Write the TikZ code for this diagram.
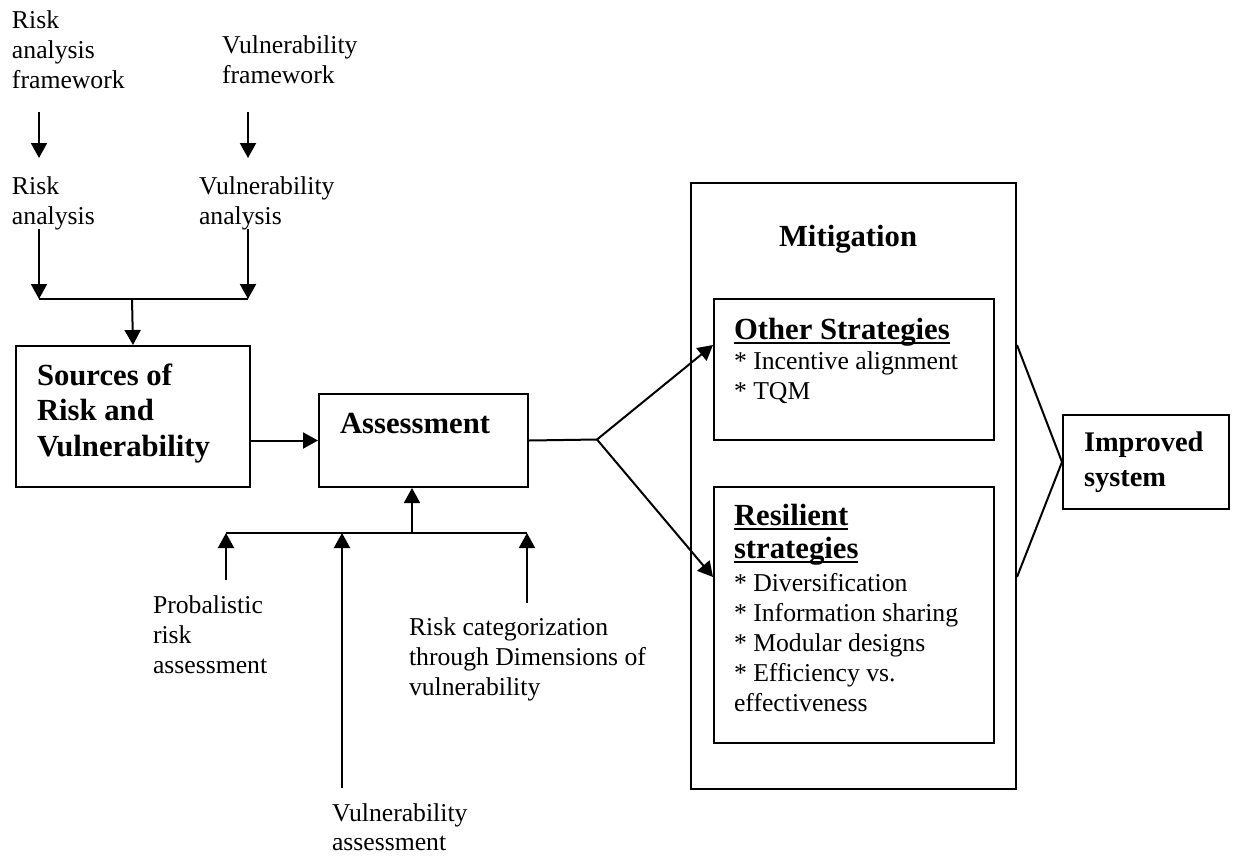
\documentclass[tikz,border=0pt]{standalone}
\usepackage{fontspec}
\setmainfont{Liberation Serif}
\usetikzlibrary{arrows.meta}
\newcommand\myul[1]{\setbox0\hbox{#1}\rlap{\rule[-5.2pt]{\wd0}{1.9pt}}\box0}
\begin{document}
\begin{tikzpicture}[x=1pt,y=-1pt,
  line width=2pt,
  arr/.style={-{Triangle[length=15pt,width=16pt]}},
  box/.style={draw, inner sep=0pt},
  txt/.style={anchor=north west, inner sep=0pt, align=left, font=\fontsize{25.7}{30}\selectfont},
  btxt/.style={anchor=north west, inner sep=0pt, align=left, font=\fontsize{30.7}{35.5}\selectfont\bfseries},
]
\useasboundingbox (0,0) rectangle (1233,857);

% boxes
\node[box, minimum width=234pt, minimum height=141pt, anchor=north west] (src) at (15,345) {};
\node[box, minimum width=209pt, minimum height=93pt, anchor=north west] (ass) at (318,393) {};
\node[box, minimum width=325pt, minimum height=606pt, anchor=north west] (mit) at (690,182) {};
\node[box, minimum width=280pt, minimum height=141pt, anchor=north west] (oth) at (713,298) {};
\node[box, minimum width=280pt, minimum height=256pt, anchor=north west] (res) at (713,486) {};
\node[box, minimum width=166pt, minimum height=94pt, anchor=north west] (imp) at (1062,414) {};

% texts
\node[txt] (raf) at (11,6) {\strut Risk\\analysis\\framework};
\node[txt] (vf) at (221,31) {\strut Vulnerability\\framework};
\node[txt] (ra) at (11,172) {\strut Risk\\analysis};
\node[txt] (va) at (198,172) {\strut Vulnerability\\analysis};
\node[btxt] (srcT) at (36,359.15) {\strut Sources of\\Risk and\\Vulnerability};
\node[btxt] (assT) at (339,407.15) {\strut Assessment};
\node[txt] (pra) at (152,591) {\strut Probalistic\\risk\\assessment};
\node[txt] (rcd) at (408,613) {\strut Risk categorization\\through Dimensions of\\vulnerability};
\node[txt, font=\fontsize{25.7}{29}\selectfont] (vas) at (331,800) {\strut Vulnerability\\assessment};
\node[btxt] (mitT) at (778,220.15) {\strut Mitigation};
\node[btxt] (othT) at (733,313.15) {\strut\myul{Other Strategies}};
\node[txt] (othL) at (733,347) {\strut * Incentive alignment\\* TQM};
\node[btxt, font=\fontsize{30.7}{33}\selectfont\bfseries] (resT) at (733,500.9) {\strut\myul{Resilient}\\\myul{strategies}};
\node[txt] (resL) at (733,569) {\strut * Diversification\\* Information sharing\\* Modular designs\\* Efficiency vs.\\effectiveness};
\node[btxt, font=\fontsize{28.4}{35}\selectfont\bfseries] (impT) at (1083,425.5) {\strut Improved\\system};

% helper coordinates
\coordinate (t1) at (39,112);  \coordinate (h1) at (39,158);
\coordinate (t2) at (248,112); \coordinate (h2) at (248,158);
\coordinate (t3) at (39,229);  \coordinate (t4) at (248,229);
\coordinate (jL) at (39,299);  \coordinate (jR) at (248,299);
\coordinate (jM) at (132,299);
\coordinate (br) at (597,439.5);
\coordinate (uY) at (0,345);   \coordinate (lY) at (0,577);
\coordinate (jb) at (412,533);
\coordinate (bL) at (226,533); \coordinate (bR) at (527,533); \coordinate (bV) at (342,533);
\coordinate (pS) at (226,580); \coordinate (vS) at (342,788); \coordinate (rS) at (527,603);

% connectors
\draw[arr] (t1) -- (h1);
\draw[arr] (t2) -- (h2);
\draw[arr] (t3) -- (jL);
\draw[arr] (t4) -- (jR);
\draw (jL) -- (jR);
\draw[arr] (jM) -- (src.north);
\draw[arr] (src.east |- ass) -- (ass.west);
\draw (ass.east) -- (br);
\draw[arr] (br) -- (oth.west |- uY);
\draw[arr] (br) -- (res.west |- lY);
\draw (mit.east |- uY) -- (imp.west);
\draw (mit.east |- lY) -- (imp.west);
\draw[arr] (jb) -- (ass.south -| jb);
\draw (bL) -- (bR);
\draw[arr] (pS) -- (bL);
\draw[arr] (vS) -- (bV);
\draw[arr] (rS) -- (bR);
\end{tikzpicture}
\end{document}
